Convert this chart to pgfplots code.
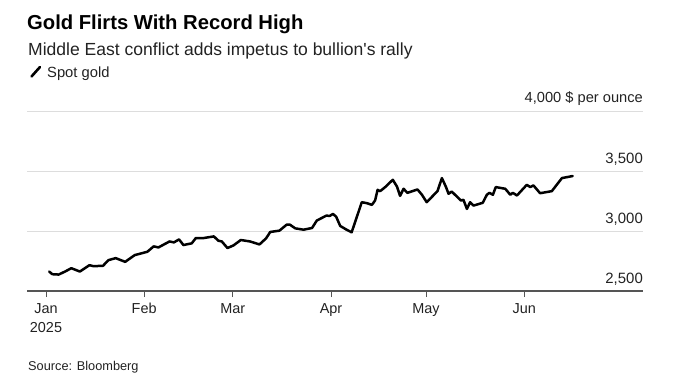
\documentclass[border=0pt]{standalone}
\usepackage{pgfplots}
\pgfplotsset{compat=1.18}
\usepackage{fontspec}
\setmainfont{Liberation Sans}
\definecolor{gridc}{HTML}{DDDDDD}
\definecolor{axc}{HTML}{555555}
\definecolor{txt}{HTML}{222222}
\pgfplotstableread{
d v
1 2662
2 2640
4 2637
6 2662
8 2690
10.7 2662
13.7 2715
15 2707
18 2710
19.7 2757
22 2774
25 2743
26.5 2771
28 2799
32 2827
34 2872
35.5 2863
39 2913
40.4 2905
42 2930
43.4 2883
46 2897
47.3 2941
49.7 2941
53 2955
54.4 2919
55.5 2913
57.3 2858
59.2 2880
61.5 2925
64.4 2913
67.4 2888
69.5 2939
70.8 2992
73.7 3003
76 3053
77 3053
78.7 3022
81.3 3011
84 3025
85.5 3087
88.5 3128
89.6 3126
90.6 3142
91.6 3120
92.9 3042
94.9 3011
96.5 2989
98.1 3114
99.7 3240
101.3 3232
102.9 3218
103.9 3254
104.7 3343
105.5 3332
107.1 3366
109.5 3427
110.8 3371
111.8 3293
112.9 3352
114.1 3318
117.3 3346
118.7 3302
120.2 3240
123.6 3332
125 3441
126.3 3366
127.1 3310
128.1 3329
131 3254
131.8 3260
132.9 3184
133.9 3240
135 3212
137.9 3235
139.2 3302
140 3318
141.1 3302
142 3366
145 3352
146.6 3302
147.4 3318
148.7 3296
151.8 3385
152.9 3366
153.9 3380
156 3315
159.7 3332
162.9 3441
166.3 3458
}\gold
\begin{document}
\begin{tikzpicture}[x=1bp,y=1bp]
\path (0,0) rectangle (673,376);
\node[anchor=base west,inner sep=0,font=\fontsize{20.3}{22}\selectfont\bfseries] at (27,347) {Gold Flirts With Record High};
\node[anchor=base west,inner sep=0,text=txt,font=\fontsize{17.6}{19}\selectfont] at (28,321) {Middle East conflict adds impetus to bullion\textquotesingle s rally};
\draw[line width=2.6bp,line cap=round] (31.5,299.5) -- (40,309);
\node[anchor=base west,inner sep=0,text=txt,font=\fontsize{14.8}{16}\selectfont] at (47,298.5) {Spot gold};
\node[anchor=base west,inner sep=0,text=txt,font=\fontsize{12.8}{14}\selectfont] at (28,6) {Source: Bloomberg};
\begin{axis}[
  at={(27bp,85bp)}, anchor=south west,
  scale only axis, width=616bp, height=180bp,
  xmin=-6, xmax=188.5, ymin=2500, ymax=4000,
  axis line style={draw=none},
  xtick={0,31,59,90,120,151},
  xticklabels={Jan,Feb,Mar,Apr,May,Jun},
  xticklabel style={text=txt,font=\fontsize{14.5}{17}\selectfont,anchor=north,text height=10.5bp,text depth=3bp,inner sep=0pt,yshift=-6bp},
  major tick length=6bp,
  tick style={axc,line width=0.8bp},
  xtick pos=bottom, tick align=outside,
  ytick=\empty,
  clip=false,
]
\draw[gridc,line width=0.8bp] (axis cs:-6,3000) -- (axis cs:188.5,3000);
\draw[gridc,line width=0.8bp] (axis cs:-6,3500) -- (axis cs:188.5,3500);
\draw[gridc,line width=0.8bp] (axis cs:-6,4000) -- (axis cs:188.5,4000);
\draw[axc,line width=1.2bp] (axis cs:-6,2500) -- (axis cs:188.5,2500);
\addplot[black,line width=2.5bp,line join=round,line cap=round,mark=none] table[x=d,y=v] {\gold};
\node[anchor=base,inner sep=0,text=txt,font=\fontsize{14.5}{17}\selectfont] at ([yshift=-41bp]axis cs:0,2500) {2025};
\node[anchor=base east,inner sep=0,text=txt,font=\fontsize{15}{17}\selectfont] at ([yshift=8bp]axis cs:188.5,2500) {2,500};
\node[anchor=base east,inner sep=0,text=txt,font=\fontsize{15}{17}\selectfont] at ([yshift=8bp]axis cs:188.5,3000) {3,000};
\node[anchor=base east,inner sep=0,text=txt,font=\fontsize{15}{17}\selectfont] at ([yshift=8bp]axis cs:188.5,3500) {3,500};
\node[anchor=base east,inner sep=0,text=txt,font=\fontsize{14.7}{17}\selectfont] at ([yshift=8bp]axis cs:188.5,4000) {4,000 \$ per ounce};
\end{axis}
\end{tikzpicture}
\end{document}
